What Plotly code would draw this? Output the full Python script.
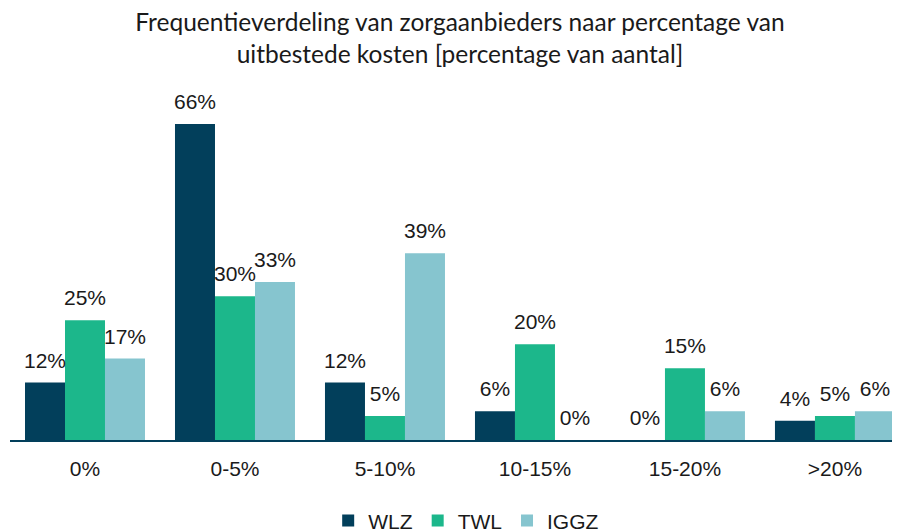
import plotly.graph_objects as go

categories = ["0%", "0-5%", "5-10%", "10-15%", "15-20%", ">20%"]
series_names = ["WLZ", "TWL", "IGGZ"]
wlz = [12, 66, 12, 6, 0, 4]
twl = [25, 30, 5, 20, 15, 5]
iggz = [17, 33, 39, 0, 6, 6]
colors = ["#023F5B", "#1CB78B", "#86C5CF"]

values = [wlz, twl, iggz]
label_font = dict(family="Liberation Sans, Arial, sans-serif", size=21, color="#1a1a1a")

fig = go.Figure()
for name, vals, col in zip(series_names, values, colors):
    fig.add_trace(go.Bar(
        x=categories, y=vals, name=name, marker_color=col,
        marker_line_width=0, offsetgroup=name,
    ))
for name, vals, col in zip(series_names, values, colors):
    fig.add_trace(go.Scatter(
        x=categories, y=vals, mode="markers+text", offsetgroup=name,
        text=[f"{v}%" for v in vals], textposition="top center",
        textfont=label_font,
        marker=dict(size=14, opacity=0), showlegend=False, hoverinfo="skip",
        cliponaxis=False,
    ))

fig.update_layout(
    width=900, height=531,
    barmode="group", bargap=0.2, bargroupgap=0,
    scattermode="group", scattergap=0.2,
    plot_bgcolor="white", paper_bgcolor="white",
    margin=dict(l=2, r=0, t=82, b=99, autoexpand=False),
    title=dict(
        text="Frequentieverdeling van zorgaanbieders naar percentage van<br>uitbestede kosten [percentage van aantal]",
        x=0.5022, xanchor="center", y=0.957, yanchor="top",
        font=dict(family="Lato, sans-serif", size=24.5, color="#1a1a1a"),
    ),
    xaxis=dict(
        type="category", range=[-0.5, 5.487], automargin=False,
        showline=True, linecolor="#023F5B", linewidth=2,
        ticks="outside", ticklen=9, tickcolor="rgba(0,0,0,0)",
        tickfont=label_font,
        showgrid=False,
    ),
    yaxis=dict(range=[0, 73.1], visible=False, showgrid=False, automargin=False),
    legend=dict(
        orientation="h", x=0.508, xanchor="center", y=-0.231, yanchor="middle",
        font=label_font,
        traceorder="normal",
    ),
    showlegend=True,
)

fig.write_html("out.html")
